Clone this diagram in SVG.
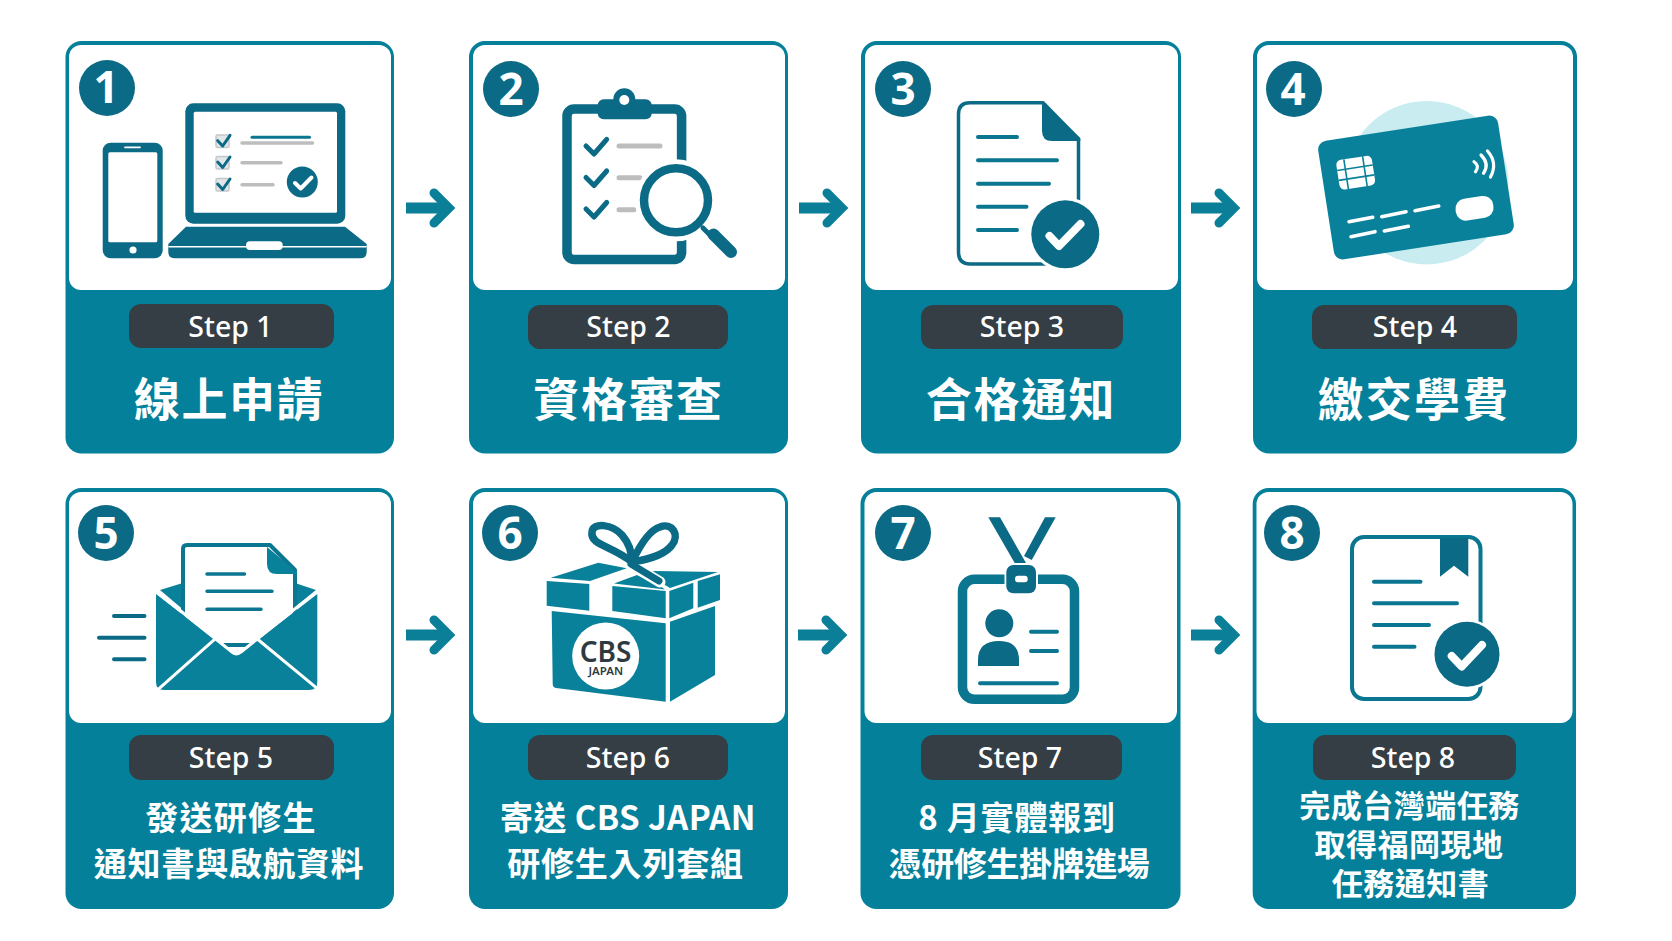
<svg xmlns="http://www.w3.org/2000/svg" width="1672" height="941" viewBox="0 0 1672 941">
<style>
.card{fill:#04809a}
.panel{fill:#fff}
.pill{fill:#343e44}
.badge{fill:#0b6a85}
.num{font-family:"Noto Sans","Liberation Sans",sans-serif;font-weight:700;font-size:44px;fill:#fff;text-anchor:middle}
.step{font-family:"Noto Sans","Liberation Sans",sans-serif;font-weight:500;font-size:28.5px;fill:#fff;text-anchor:middle}
.t1{font-family:"Noto Sans CJK TC","Noto Sans",sans-serif;font-weight:700;font-size:46px;letter-spacing:1.6px;fill:#fff;text-anchor:middle}
.t2{font-family:"Noto Sans CJK TC","Noto Sans",sans-serif;font-weight:700;font-size:33px;letter-spacing:.8px;fill:#fff;text-anchor:middle}
.t3{font-family:"Noto Sans CJK TC","Noto Sans",sans-serif;font-weight:700;font-size:31px;letter-spacing:.5px;fill:#fff;text-anchor:middle}
.conn{stroke:#0a7f97;stroke-width:11;fill:none}
.dk{fill:#0b6a85}
.tl{fill:#0a819a}
.wh{fill:#fff}
.ol{fill:none;stroke:#0b6a85;stroke-linecap:round;stroke-linejoin:round}
.ol2{fill:none;stroke:#0a7690;stroke-linecap:round;stroke-linejoin:round}
.gr{fill:none;stroke:#bdbdbd;stroke-linecap:round}
.wl{fill:none;stroke:#fff;stroke-linecap:round;stroke-linejoin:round}
.mchk{fill:none;stroke:#fff;stroke-width:8;stroke-linecap:round;stroke-linejoin:round}
.logo{font-family:"Noto Sans","Liberation Sans",sans-serif;font-weight:600;fill:#2f3a40;text-anchor:middle}
</style>
<defs>
<marker id="head" markerUnits="userSpaceOnUse" markerWidth="34" markerHeight="46" viewBox="0 0 34 46" refX="20" refY="23" orient="auto">
<path d="M5 8L20 23L5 38" fill="none" stroke="#0a7f97" stroke-width="9" stroke-linecap="round" stroke-linejoin="miter"/>
</marker>
</defs>
<rect width="1672" height="941" fill="#fff"/>

<g id="connectors">
<line class="conn" x1="406" y1="208" x2="449" y2="208" marker-end="url(#head)"/>
<line class="conn" x1="799" y1="208" x2="842" y2="208" marker-end="url(#head)"/>
<line class="conn" x1="1191" y1="208" x2="1234" y2="208" marker-end="url(#head)"/>
<line class="conn" x1="406" y1="635" x2="449" y2="635" marker-end="url(#head)"/>
<line class="conn" x1="798" y1="635" x2="841" y2="635" marker-end="url(#head)"/>
<line class="conn" x1="1191" y1="635" x2="1234" y2="635" marker-end="url(#head)"/>
</g>

<g id="step1">
<rect class="card" x="65.5" y="41" width="328.5" height="412.5" rx="16"/>
<rect class="panel" x="69" y="45" width="322" height="245" rx="12"/>
<circle class="badge" cx="107" cy="88" r="28"/><text class="num" x="106" y="103">1</text>
<rect class="dk" x="102.7" y="142.7" width="60" height="115.6" rx="8"/>
<rect class="wh" x="108.3" y="152.3" width="49" height="90" rx="1.5"/>
<path class="wl" stroke-width="1.8" d="M125 147.3H140"/>
<circle class="wh" cx="133" cy="250" r="3.6"/>
<rect class="dk" x="185.3" y="103.3" width="160" height="120.4" rx="8"/>
<rect class="wh" x="193.7" y="111.7" width="143.3" height="101" rx="1.5"/>
<g fill="#e3e6e8" stroke="#c4c8ca" stroke-width="1.5">
<rect x="216" y="135" width="13" height="12.5" rx="1.5"/>
<rect x="216" y="156.5" width="13" height="12.5" rx="1.5"/>
<rect x="216" y="178.5" width="13" height="12.5" rx="1.5"/>
</g>
<path class="ol" stroke-width="3" d="M217.7 140.7L222.7 146L230 135.3M217.7 162L222.7 167.5L230 157M217.7 184L222.7 189.5L230 179"/>
<path class="ol2" stroke-width="3" d="M252 137.3H309.5"/>
<path class="gr" stroke-width="3.5" d="M242 143H312.5M242 162.7H281M242 184.7H273"/>
<circle class="dk" cx="302.3" cy="182" r="15.5"/>
<path class="wl" stroke-width="4" d="M295 183L300.7 188.5L311.5 177.5"/>
<path class="dk" d="M186 226.7H345L366.7 244V252Q366.7 258.3 360 258.3H175Q168.3 258.3 168.3 252V244Z"/>
<path class="wl" stroke-width="1.6" d="M169 246.7H366"/>
<rect class="wh" x="246" y="241.3" width="36.7" height="8.7" rx="4"/>
<rect class="pill" x="129" y="304" width="205" height="44" rx="12"/>
<text class="step" x="230.5" y="337">Step 1</text>
<text class="t1" x="229" y="416">線上申請</text>
</g>

<g id="step2">
<rect class="card" x="469" y="41" width="319" height="412.5" rx="16"/>
<rect class="panel" x="473" y="45" width="312" height="245" rx="12"/>
<circle class="badge" cx="511" cy="89" r="28"/><text class="num" x="511" y="105">2</text>
<rect x="567" y="109" width="114.6" height="150.5" rx="7" fill="#fff" stroke="#0b6a85" stroke-width="9.5"/>
<rect class="dk" x="597.7" y="99.3" width="54" height="20" rx="6"/>
<circle class="dk" cx="624.3" cy="99.3" r="11"/>
<circle class="wh" cx="624.3" cy="100" r="5"/>
<path class="ol" stroke-width="5" d="M586 146L594 154L606.7 139.3M586 177.5L594 185.5L606.7 171M586 209L594 217L606.7 202.5"/>
<path class="gr" stroke-width="5" d="M619 146H660M619 177.7H640M619 209.7H634"/>
<circle class="wh" cx="676" cy="200.3" r="41"/>
<circle cx="676" cy="200.3" r="32" fill="#fff" stroke="#0b6a85" stroke-width="8.5"/>
<path class="ol" stroke-width="5" d="M703 228L712 237"/>
<path class="ol" stroke-width="12" d="M713.5 234.5L731 252"/>
<rect class="pill" x="528" y="305" width="200" height="44" rx="12"/>
<text class="step" x="628.5" y="337">Step 2</text>
<text class="t1" x="628.5" y="416">資格審查</text>
</g>

<g id="step3">
<rect class="card" x="861" y="41" width="320" height="412.5" rx="16"/>
<rect class="panel" x="865" y="45" width="313" height="245" rx="12"/>
<circle class="badge" cx="903" cy="89" r="28"/><text class="num" x="903" y="105">3</text>
<path d="M1043 102.7H970Q958.5 102.7 958.5 114V252Q958.5 264 970 264H1060Q1078.5 264 1078.5 250V139Z" fill="#fff" stroke="#0b6a85" stroke-width="3.5" stroke-linejoin="round"/>
<path class="dk" d="M1042 101.5L1080.3 138.3V141H1052Q1042 141 1042 131Z"/>
<path class="ol2" stroke-width="4" d="M978 137H1017M978 160.3H1057M978 183.7H1049M978 206.7H1026.5M978 230H1017"/>
<circle class="wh" cx="1065.3" cy="234.3" r="37"/>
<circle class="dk" cx="1065.3" cy="234.3" r="34"/>
<path class="mchk" d="M1049.5 236L1059 246L1080.5 224"/>
<rect class="pill" x="921" y="305" width="202" height="44" rx="12"/>
<text class="step" x="1022" y="337">Step 3</text>
<text class="t1" x="1021" y="416">合格通知</text>
</g>

<g id="step4">
<rect class="card" x="1253" y="41" width="324" height="412.5" rx="16"/>
<rect class="panel" x="1257" y="45" width="316" height="245" rx="12"/>
<circle class="badge" cx="1294" cy="89" r="28"/><text class="num" x="1293" y="105">4</text>
<circle cx="1426.7" cy="182.7" r="81.7" fill="#c8ecf0"/>
<rect x="1325" y="127.5" width="182" height="120" rx="9" transform="rotate(-8.8 1416 187.5)" fill="#0a819a"/>
<g transform="rotate(-8.8 1355.7 172.7)">
<rect class="wh" x="1337.7" y="157.7" width="36" height="30" rx="5"/>
<path d="M1346 157.7V187.7M1365 157.7V187.7M1337.7 167.7H1373.7M1337.7 177.7H1373.7" stroke="#0a819a" stroke-width="1.6" fill="none"/>
</g>
<path class="wl" stroke-width="3.2" d="M1487.5 151Q1498 163 1490.5 177M1481 155Q1490 164 1483.5 173.3M1474 161.7Q1480 166 1475.5 171.7"/>
<rect class="wh" x="1455.5" y="197.3" width="38" height="22" rx="10" transform="rotate(-8.8 1474.5 208.3)"/>
<path class="wl" stroke-width="3.6" d="M1349 221.7L1372.7 217.3M1381.7 216.7L1406 211.7M1415 210.7L1438.7 206M1351 236.7L1375 231.7M1384.3 231L1408.3 226.3"/>
<rect class="pill" x="1312" y="305" width="205" height="44" rx="12"/>
<text class="step" x="1415" y="337">Step 4</text>
<text class="t1" x="1414" y="416" style="letter-spacing:2.2px">繳交學費</text>
</g>

<g id="step5">
<rect class="card" x="65.5" y="488" width="328.5" height="421" rx="16"/>
<rect class="panel" x="69" y="492" width="322" height="231" rx="12"/>
<circle class="badge" cx="106" cy="533" r="28"/><text class="num" x="106" y="549">5</text>
<path class="ol" stroke-width="4" d="M114 616H144.5M99 637.7H144.5M114 659.3H144.5"/>
<path class="tl" d="M160 590L186 582V612ZM316 590L292 582V612Z"/>
<path d="M183 645V549Q183 545 187 545H270L295 570V645Z" fill="#fff" stroke="#0a7690" stroke-width="4" stroke-linejoin="round"/>
<path class="tl" d="M267 547L297 572V574H277Q267 574 267 564Z"/>
<path class="ol2" stroke-width="3.5" d="M207 574H244.5M207 591.3H272M207 609.3H261"/>
<path class="tl" d="M156 594L232 653Q236.7 657 241 653L317.3 594V682Q317.3 690 309 690H164Q156 690 156 682Z"/>
<path class="wl" stroke-width="3" d="M157 592L232 652Q236.7 656 241 652L316 592"/>
<path class="wl" stroke-width="3" d="M159.3 688.3L215.7 638.3M315 686.7L257.3 639"/>
<rect class="pill" x="129" y="735" width="205" height="45" rx="12"/>
<text class="step" x="231" y="767.5">Step 5</text>
<text class="t2" x="231" y="830" style="letter-spacing:1.3px">發送研修生</text>
<text class="t2" x="229" y="876">通知書與啟航資料</text>
</g>

<g id="step6">
<rect class="card" x="469" y="488" width="319" height="421" rx="16"/>
<rect class="panel" x="473" y="492" width="312" height="231" rx="12"/>
<circle class="badge" cx="510" cy="533" r="28"/><text class="num" x="510" y="549">6</text>
<path class="tl" d="M546.7 581L589.3 584V610.7L546.7 605.7ZM612.3 586L665.7 591V618.3L612.3 611ZM669.3 591L693.3 582.7V608.3L669.3 618.3ZM697.7 581L720 574.3V600L697.7 607.7Z"/>
<path class="tl" d="M550.7 577.7L598.3 562.7L626.7 568.3L590 581ZM614 583.5L637 575L660 586L665 589.5ZM645 573L655 571L718 572L670 588Z"/>
<path class="tl" d="M551.7 611L665.7 623.3V701.7L556 688Q552.7 687.5 552.7 684ZM670 621.7L715 606V675L670 701.7Z"/>
<path class="ol" stroke-width="7.5" d="M632 562C610 545 590 545 592 532C593 522 612 524 622 535C628 542 632 552 632 562C640 545 650 530 660 527C672 522 680 535 672 545C665 555 645 560 632 562"/>
<path fill="none" stroke="#fff" stroke-width="11" stroke-linecap="round" d="M640 570L660 582"/>
<path class="ol" stroke-width="7" d="M631 564L659 581"/>
<circle class="wh" cx="605.7" cy="656" r="33.5"/>
<text class="logo" x="605.5" y="661.5" font-size="28">CBS</text>
<text class="logo" x="605.7" y="674.5" font-size="11.5">JAPAN</text>
<rect class="pill" x="528" y="735" width="200" height="45" rx="12"/>
<text class="step" x="628" y="767.5">Step 6</text>
<text class="t2" x="628" y="830" style="letter-spacing:.4px">寄送 CBS JAPAN</text>
<text class="t2" x="625.5" y="876">研修生入列套組</text>
</g>

<g id="step7">
<rect class="card" x="860.5" y="488" width="320" height="421" rx="16"/>
<rect class="panel" x="864.5" y="492" width="312.5" height="231" rx="12"/>
<circle class="badge" cx="903" cy="533" r="28"/><text class="num" x="903" y="549">7</text>
<path class="dk" d="M988.3 517.3H1000L1026 563L1017 567ZM1045 517.3H1055.7L1031.7 560L1024 556Z"/>
<rect x="962.5" y="579.3" width="112" height="120" rx="12" fill="#fff" stroke="#0a7690" stroke-width="9.5"/>
<rect x="1004.5" y="563" width="33.5" height="32" rx="8" fill="#fff"/>
<rect class="dk" x="1006.3" y="565" width="29.7" height="28.3" rx="7"/>
<rect class="wh" x="1015" y="575.7" width="12.7" height="6.6" rx="3"/>
<circle class="dk" cx="999.3" cy="623.3" r="14"/>
<path class="dk" d="M978 666V660Q978 641 999 641Q1019 641 1019 660V666Z"/>
<path class="ol2" stroke-width="4" d="M1031 631.7H1057M1031 651H1057M980 683.3H1057"/>
<rect class="pill" x="921" y="735" width="201" height="45" rx="12"/>
<text class="step" x="1020" y="767.5">Step 7</text>
<text class="t2" x="1017" y="830">8 月實體報到</text>
<text class="t2" x="1019" y="876" style="letter-spacing:-.4px">憑研修生掛牌進場</text>
</g>

<g id="step8">
<rect class="card" x="1252.7" y="488" width="323.3" height="421" rx="16"/>
<rect class="panel" x="1256.5" y="492" width="316" height="231" rx="12"/>
<circle class="badge" cx="1292" cy="533" r="28"/><text class="num" x="1292" y="549">8</text>
<rect x="1352" y="537" width="128.5" height="162" rx="12" fill="#fff" stroke="#0a7690" stroke-width="4"/>
<path class="dk" d="M1440 538H1468.3V576.7L1454 565.7L1440 576.7Z"/>
<path class="ol2" stroke-width="4" d="M1374 581.7H1420.5M1374 603.3H1457M1374 625H1429M1374 646.7H1414.5"/>
<circle class="wh" cx="1467" cy="654.3" r="35"/>
<circle class="dk" cx="1467" cy="654.3" r="32.5"/>
<path class="mchk" d="M1451.7 656L1461.7 666.5L1482 645"/>
<rect class="pill" x="1313" y="735" width="203" height="45" rx="12"/>
<text class="step" x="1413" y="767.5">Step 8</text>
<text class="t3" x="1409.5" y="817">完成台灣端任務</text>
<text class="t3" x="1409" y="856">取得福岡現地</text>
<text class="t3" x="1410.5" y="895">任務通知書</text>
</g>
</svg>
